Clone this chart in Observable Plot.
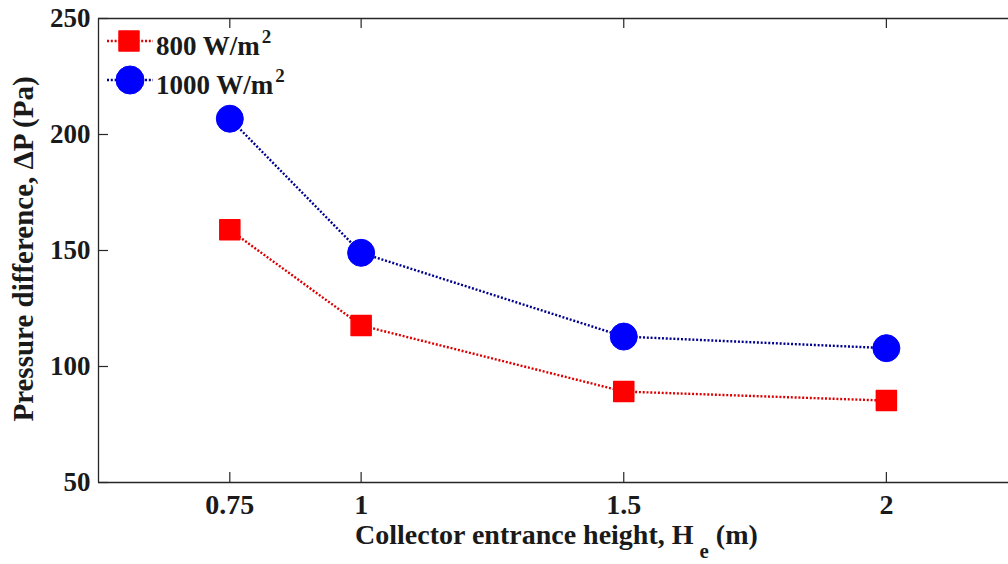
<!DOCTYPE html>
<html>
<head>
<meta charset="utf-8">
<script src="https://cdn.jsdelivr.net/npm/d3@7"></script>
<script src="https://cdn.jsdelivr.net/npm/@observablehq/plot@0.6"></script>
<style>
  html, body { margin: 0; padding: 0; background: #fff; overflow: hidden; }
  #chart svg { display: block; }
</style>
</head>
<body>
<div id="chart"></div>
<script>
// ---- data ----
const heights = [0.75, 1, 1.5, 2];            // collector entrance height He (m)
const dp800 = [158.9, 117.7, 89.2, 85.3];     // pressure difference at 800 W/m2 (Pa)
const dp1000 = [206.8, 149.0, 112.9, 107.9];  // pressure difference at 1000 W/m2 (Pa)
const xTicks = [0.75, 1, 1.5, 2];
const yTicks = [50, 100, 150, 200, 250];
const seriesNames = ["800 W/m", "1000 W/m"];

// ---- layout ----
const W = 1008, H = 564;
const mL = 98, mT = 18, mB = 82, mR = 0;
const plotW = W - mL - mR, plotH = H - mT - mB;
const tickLen = 10;
const axisColor = "#262626";
const font = "'Liberation Serif', 'Times New Roman', serif";
const dash = "2,1.8";

const rows800 = heights.map((h, i) => ({h, v: dp800[i]}));
const rows1000 = heights.map((h, i) => ({h, v: dp1000[i]}));

const chart = Plot.plot({
  width: W, height: H,
  marginLeft: mL, marginTop: mT, marginBottom: mB, marginRight: mR,
  style: {fontFamily: font, fontWeight: "bold", fontSize: "27px", background: "#fff", color: "#1a1a1a"},
  x: {domain: [0.5, 2.2325]},
  y: {domain: [50, 250]},
  marks: [
    // frame
    Plot.ruleX([0.5], {stroke: axisColor, strokeWidth: 1.3}),
    Plot.ruleY([50, 250], {stroke: axisColor, strokeWidth: 1.3}),
    // inward ticks
    Plot.ruleX(xTicks, {x: d => d, insetTop: plotH - tickLen, stroke: axisColor, strokeWidth: 1.2}),
    Plot.ruleX(xTicks, {x: d => d, insetBottom: plotH - tickLen, stroke: axisColor, strokeWidth: 1.2}),
    Plot.ruleY(yTicks, {y: d => d, insetRight: plotW - tickLen, stroke: axisColor, strokeWidth: 1.2}),
    // axes labels
    Plot.axisX({ticks: xTicks, tickSize: 0, tickPadding: 12, label: null, fontSize: 28, tickFormat: d => String(d)}),
    Plot.axisY({ticks: yTicks, tickSize: 0, tickPadding: 8, label: null, fontSize: 27}),
    // series
    Plot.line(rows800, {x: "h", y: "v", stroke: "#dd0000", strokeWidth: 2.4, strokeDasharray: dash}),
    Plot.line(rows1000, {x: "h", y: "v", stroke: "#00008f", strokeWidth: 2.4, strokeDasharray: dash}),
    Plot.dot(rows800, {x: "h", y: "v", symbol: "square", r: 11.3, fill: "#ff0000", stroke: "#ff0000", strokeWidth: 1.5, strokeLinejoin: "round"}),
    Plot.dot(rows1000, {x: "h", y: "v", r: 13.5, fill: "#0000ff", stroke: "#0000ff", strokeWidth: 1})
  ]
});

document.getElementById("chart").appendChild(chart);

const svg = d3.select(chart);
// make sure the series lines are dotted
svg.selectAll("g[aria-label='line'] path")
  .attr("stroke-dasharray", dash).attr("stroke-linecap", "butt");

// x axis title with subscript
const xt = svg.append("text")
  .attr("x", 355).attr("y", 544)
  .attr("text-anchor", "start")
  .attr("font-family", font).attr("font-weight", "bold").attr("font-size", 28)
  .attr("fill", "#1a1a1a");
xt.append("tspan").text("Collector entrance height, H");
xt.append("tspan").attr("dx", 6).attr("dy", 14).attr("font-size", 21).text("e");
xt.append("tspan").attr("dy", -14).text(" (m)");

// y axis title
svg.append("text")
  .attr("transform", "translate(33,249) rotate(-90)")
  .attr("text-anchor", "middle")
  .attr("font-family", font).attr("font-weight", "bold").attr("font-size", 29)
  .attr("fill", "#1a1a1a")
  .text("Pressure difference, \u0394P (Pa)");

// legend
const leg = svg.append("g");
const legendRows = [
  {name: seriesNames[0], y: 41, base: 55, line: "#dd0000", fill: "#ff0000", shape: "square"},
  {name: seriesNames[1], y: 80, base: 94, line: "#00008f", fill: "#0000ff", shape: "circle"}
];
legendRows.forEach(r => {
  leg.append("line").attr("x1", 107).attr("x2", 153).attr("y1", r.y).attr("y2", r.y)
    .attr("stroke", r.line).attr("stroke-width", 2.4).attr("stroke-dasharray", dash);
  if (r.shape === "square") {
    leg.append("rect").attr("x", 129 - 10).attr("y", r.y - 10).attr("width", 20).attr("height", 20)
      .attr("fill", r.fill).attr("stroke", r.fill).attr("stroke-width", 1.5).attr("stroke-linejoin", "round");
  } else {
    leg.append("circle").attr("cx", 130).attr("cy", r.y).attr("r", 14)
      .attr("fill", r.fill).attr("stroke", r.fill).attr("stroke-width", 1);
  }
  const t = leg.append("text").attr("x", 156).attr("y", r.base)
    .attr("text-anchor", "start")
    .attr("font-family", font).attr("font-weight", "bold").attr("font-size", 27).attr("fill", "#1a1a1a");
  t.append("tspan").text(r.name);
  t.append("tspan").attr("dx", 2).attr("dy", -12).attr("font-size", 19).text("2");
});
</script>
</body>
</html>
